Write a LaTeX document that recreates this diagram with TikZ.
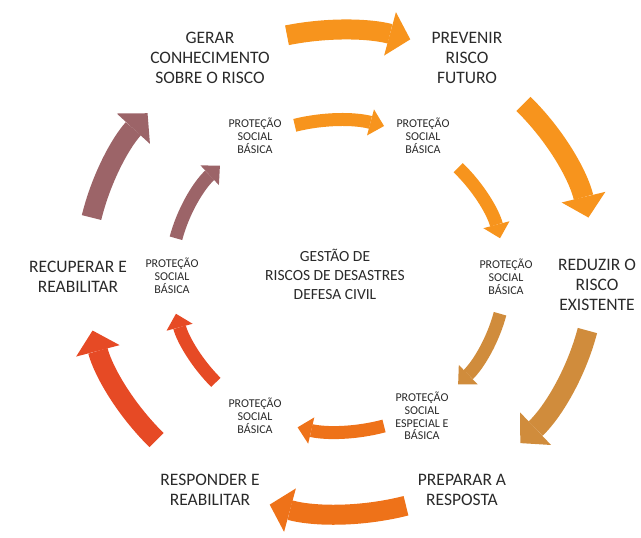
\documentclass[tikz,border=0pt]{standalone}
\usepackage{fontspec}
\setmainfont{Carlito}
\usetikzlibrary{arrows.meta}
\definecolor{cOrange}{HTML}{F7941D}
\definecolor{cTan}{HTML}{D08C3C}
\definecolor{cDeep}{HTML}{EE7219}
\definecolor{cRed}{HTML}{E64A25}
\definecolor{cMauve}{HTML}{9C6468}
\definecolor{txt}{HTML}{2A2A2A}
\begin{document}
\begin{tikzpicture}[x=1pt,y=1pt,
 bigarrow/.style={line width=20pt,-{Triangle[width=45pt,length=21pt,line width=0pt]}},
 smallarrow/.style={line width=13pt,-{Triangle[width=27pt,length=14pt,line width=0pt]}},
 biglabel/.style={align=center,text=txt,inner sep=0pt,font=\fontsize{17.5}{20}\selectfont},
 smalllabel/.style={align=center,text=txt,inner sep=0pt,font=\fontsize{12}{12.8}\selectfont},
 centerlabel/.style={align=center,text=txt,inner sep=0pt,font=\fontsize{15.5}{19}\selectfont}]
\useasboundingbox (0,0) rectangle (641,538);
\coordinate (oc) at (340,266);
\coordinate (ic) at (338,262);
% outer ring
\foreach \a/\b/\col in {102/74/cOrange, 44/13/cOrange, -14/-45/cTan, -75/-106/cDeep, -136/-166/cRed, 167/139/cMauve}
  \draw[bigarrow,color=\col] ([shift={(\a:255pt and 242pt)}]oc) arc[start angle=\a, end angle=\b, x radius=255pt, y radius=242pt];
% inner ring
\foreach \a/\b/\col in {105/74/cOrange, 44/14/cOrange, -14/-44/cTan, -74/-104/cDeep, -137/-166/cRed, 166/135/cMauve}
  \draw[smallarrow,color=\col] ([shift={(\a:167pt and 156pt)}]ic) arc[start angle=\a, end angle=\b, x radius=167pt, y radius=156pt];
% outer labels
\node[biglabel] (gerar) at (210,480) {GERAR\\CONHECIMENTO\\SOBRE O RISCO};
\node[biglabel] (prevenir) at (467,480) {PREVENIR\\RISCO\\FUTURO};
\node[biglabel] (reduzir) at (597,253) {REDUZIR O\\RISCO\\EXISTENTE};
\node[biglabel] (preparar) at (462,48) {PREPARAR A\\RESPOSTA};
\node[biglabel] (responder) at (210,48) {RESPONDER E\\REABILITAR};
\node[biglabel] (recuperar) at (78,261) {RECUPERAR E\\REABILITAR};
% inner labels
\node[smalllabel] (ptl) at (255,402) {PROTEÇÃO\\SOCIAL\\BÁSICA};
\node[smalllabel] (ptr) at (423,402) {PROTEÇÃO\\SOCIAL\\BÁSICA};
\node[smalllabel] (pr) at (506,261) {PROTEÇÃO\\SOCIAL\\BÁSICA};
\node[smalllabel] (pbr) at (422,122) {PROTEÇÃO\\SOCIAL\\ESPECIAL E\\BÁSICA};
\node[smalllabel] (pbl) at (255,122) {PROTEÇÃO\\SOCIAL\\BÁSICA};
\node[smalllabel] (pl) at (172,262) {PROTEÇÃO\\SOCIAL\\BÁSICA};
% center
\node[centerlabel] (centro) at (335,264) {GESTÃO DE\\RISCOS DE DESASTRES\\DEFESA CIVIL};
\end{tikzpicture}
\end{document}
